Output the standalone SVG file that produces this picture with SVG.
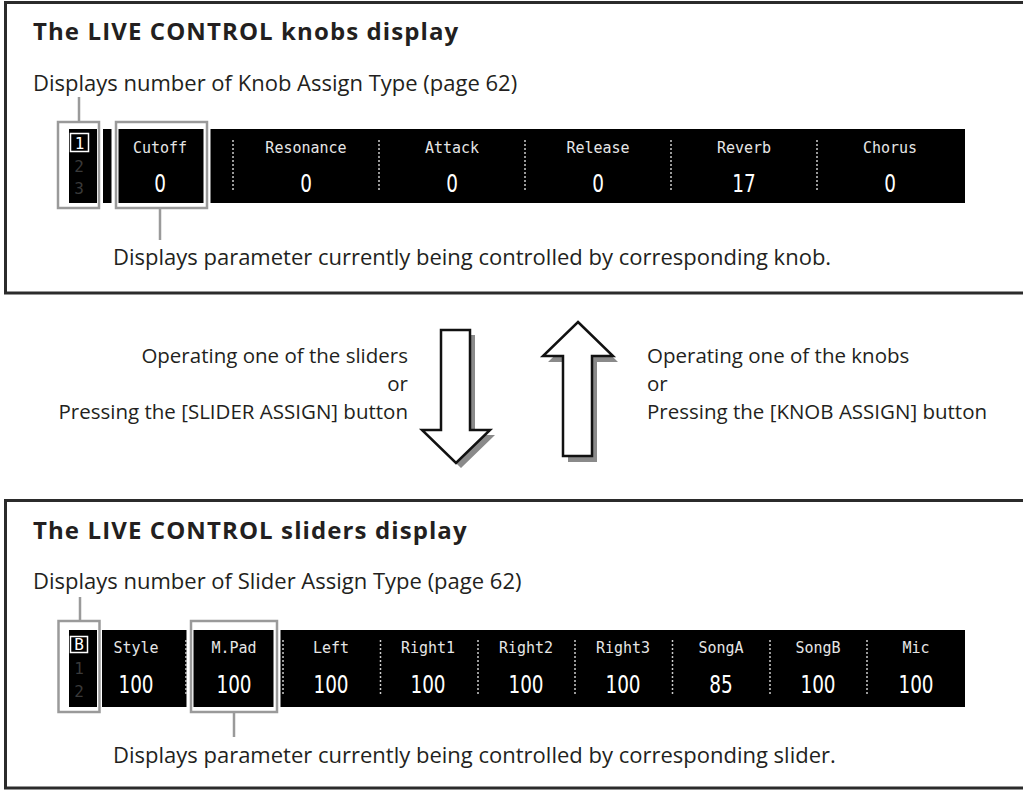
<svg xmlns="http://www.w3.org/2000/svg" width="1023" height="791" viewBox="0 0 1023 791">
<style>
.frame{fill:none;stroke:#2b2b2b;stroke-width:3}
.title{font-family:"Open Sans","Noto Sans",sans-serif;font-weight:bold;font-size:24px;letter-spacing:1.1px;fill:#231f20}
.body{font-family:"Open Sans","Noto Sans",sans-serif;font-size:22px;fill:#231f20}
.mid{font-family:"Open Sans","Noto Sans",sans-serif;font-size:20.5px;fill:#231f20}
.lcd{fill:#000}
.lab{font-family:"DejaVu Sans Mono",monospace;font-size:15px;fill:#e6e6e6;text-anchor:middle}
.val{font-family:"DejaVu Sans Condensed","DejaVu Sans",sans-serif;font-size:25px;fill:#fff;text-anchor:middle}
.num{font-family:"DejaVu Sans Mono",monospace;font-size:16px;fill:#3a3a3a;text-anchor:middle}
.sel{font-family:"DejaVu Sans Mono",monospace;font-size:16px;fill:#fff;text-anchor:middle}
.selbox{fill:none;stroke:#fff;stroke-width:1.5}
.sep{stroke:#ccc;stroke-width:1.5;stroke-dasharray:2 2}
.gbox{fill:none;stroke:#9a9a9a;stroke-width:2.5}
.gap{fill:none;stroke:#fff;stroke-width:7}
.leader{stroke:#9a9a9a;stroke-width:2.5;fill:none}
.arrow{fill:#fff;stroke:#111;stroke-width:2.5;stroke-linejoin:miter}
.shadow{fill:#8a8a8a}
</style>

<g id="knobs-panel">
<rect class="frame" x="5.5" y="2.5" width="1030" height="290.5"/>
<text class="title" x="33" y="40">The LIVE CONTROL knobs display</text>
<text class="body" x="33" y="91">Displays number of Knob Assign Type (page 62)</text>
<rect class="lcd" x="69" y="129" width="28" height="74"/>
<rect class="lcd" x="103" y="129" width="862" height="74"/>
<rect class="gap" x="115" y="122" width="92" height="86"/>
<rect class="selbox" x="70.5" y="133.5" width="18" height="18"/>
<text class="sel" x="79.5" y="149">1</text>
<text class="num" x="79" y="172">2</text>
<text class="num" x="79" y="194">3</text>
<g>
<line class="sep" x1="233" y1="140" x2="233" y2="192"/>
<line class="sep" x1="379" y1="140" x2="379" y2="192"/>
<line class="sep" x1="525" y1="140" x2="525" y2="192"/>
<line class="sep" x1="671" y1="140" x2="671" y2="192"/>
<line class="sep" x1="817" y1="140" x2="817" y2="192"/>
</g>
<text class="lab" x="160" y="153">Cutoff</text>
<text class="lab" x="306" y="153">Resonance</text>
<text class="lab" x="452" y="153">Attack</text>
<text class="lab" x="598" y="153">Release</text>
<text class="lab" x="744" y="153">Reverb</text>
<text class="lab" x="890" y="153">Chorus</text>
<text class="val" transform="translate(160 192) scale(0.82 1)">0</text>
<text class="val" transform="translate(306 192) scale(0.82 1)">0</text>
<text class="val" transform="translate(452 192) scale(0.82 1)">0</text>
<text class="val" transform="translate(598 192) scale(0.82 1)">0</text>
<text class="val" transform="translate(744 192) scale(0.82 1)">17</text>
<text class="val" transform="translate(890 192) scale(0.82 1)">0</text>
<rect class="gbox" x="58" y="122" width="41" height="86"/>
<rect class="gbox" x="116" y="122" width="91" height="86"/>
<text class="body" x="113" y="265">Displays parameter currently being controlled by corresponding knob.</text>
</g>

<g id="sliders-panel">
<rect class="frame" x="5.5" y="500.5" width="1030" height="287.5"/>
<text class="title" x="33" y="539">The LIVE CONTROL sliders display</text>
<text class="body" x="33" y="589">Displays number of Slider Assign Type (page 62)</text>
<rect class="lcd" x="69" y="630" width="28" height="77"/>
<rect class="lcd" x="102" y="630" width="863" height="77"/>
<rect class="gap" x="190" y="621" width="87" height="91"/>
<rect class="selbox" x="70.5" y="636.5" width="17" height="16"/>
<text class="sel" x="79" y="650">B</text>
<text class="num" x="79" y="674">1</text>
<text class="num" x="79" y="697">2</text>
<g>
<line class="sep" x1="186" y1="640" x2="186" y2="694"/>
<line class="sep" x1="283" y1="640" x2="283" y2="694"/>
<line class="sep" x1="380.5" y1="640" x2="380.5" y2="694"/>
<line class="sep" x1="478" y1="640" x2="478" y2="694"/>
<line class="sep" x1="575" y1="640" x2="575" y2="694"/>
<line class="sep" x1="672.5" y1="640" x2="672.5" y2="694"/>
<line class="sep" x1="770" y1="640" x2="770" y2="694"/>
<line class="sep" x1="867" y1="640" x2="867" y2="694"/>
</g>
<text class="lab" x="136" y="653">Style</text>
<text class="lab" x="234" y="653">M.Pad</text>
<text class="lab" x="331" y="653">Left</text>
<text class="lab" x="428" y="653">Right1</text>
<text class="lab" x="526" y="653">Right2</text>
<text class="lab" x="623" y="653">Right3</text>
<text class="lab" x="721" y="653">SongA</text>
<text class="lab" x="818" y="653">SongB</text>
<text class="lab" x="916" y="653">Mic</text>
<text class="val" transform="translate(136 693) scale(0.82 1)">100</text>
<text class="val" transform="translate(234 693) scale(0.82 1)">100</text>
<text class="val" transform="translate(331 693) scale(0.82 1)">100</text>
<text class="val" transform="translate(428 693) scale(0.82 1)">100</text>
<text class="val" transform="translate(526 693) scale(0.82 1)">100</text>
<text class="val" transform="translate(623 693) scale(0.82 1)">100</text>
<text class="val" transform="translate(721 693) scale(0.82 1)">85</text>
<text class="val" transform="translate(818 693) scale(0.82 1)">100</text>
<text class="val" transform="translate(916 693) scale(0.82 1)">100</text>
<rect class="gbox" x="58.5" y="621" width="41" height="91"/>
<rect class="gbox" x="191" y="621" width="86" height="91"/>
<text class="body" x="113" y="763">Displays parameter currently being controlled by corresponding slider.</text>
</g>

<g id="connectors">
<line class="leader" x1="79" y1="97" x2="79" y2="122"/>
<line class="leader" x1="160" y1="208" x2="160" y2="240"/>
<line class="leader" x1="80" y1="597" x2="80" y2="621"/>
<line class="leader" x1="234" y1="712" x2="234" y2="737"/>
</g>

<g id="down-arrow">
<polygon class="shadow" points="446,335 475,335 475,435 495,435 461,468 427,435 446,435"/>
<polygon class="arrow" points="441,330 470,330 470,430 490,430 456,463 422,430 441,430"/>
<text class="mid" x="408" y="363" text-anchor="end">Operating one of the sliders</text>
<text class="mid" x="408" y="391" text-anchor="end">or</text>
<text class="mid" x="408" y="419" text-anchor="end">Pressing the [SLIDER ASSIGN] button</text>
</g>

<g id="up-arrow">
<polygon class="shadow" points="583,328 618,362 597,362 597,462 568,462 568,362 548,362"/>
<polygon class="arrow" points="578,322 613,356 592,356 592,456 563,456 563,356 543,356"/>
<text class="mid" x="647" y="363">Operating one of the knobs</text>
<text class="mid" x="647" y="391">or</text>
<text class="mid" x="647" y="419">Pressing the [KNOB ASSIGN] button</text>
</g>
</svg>
